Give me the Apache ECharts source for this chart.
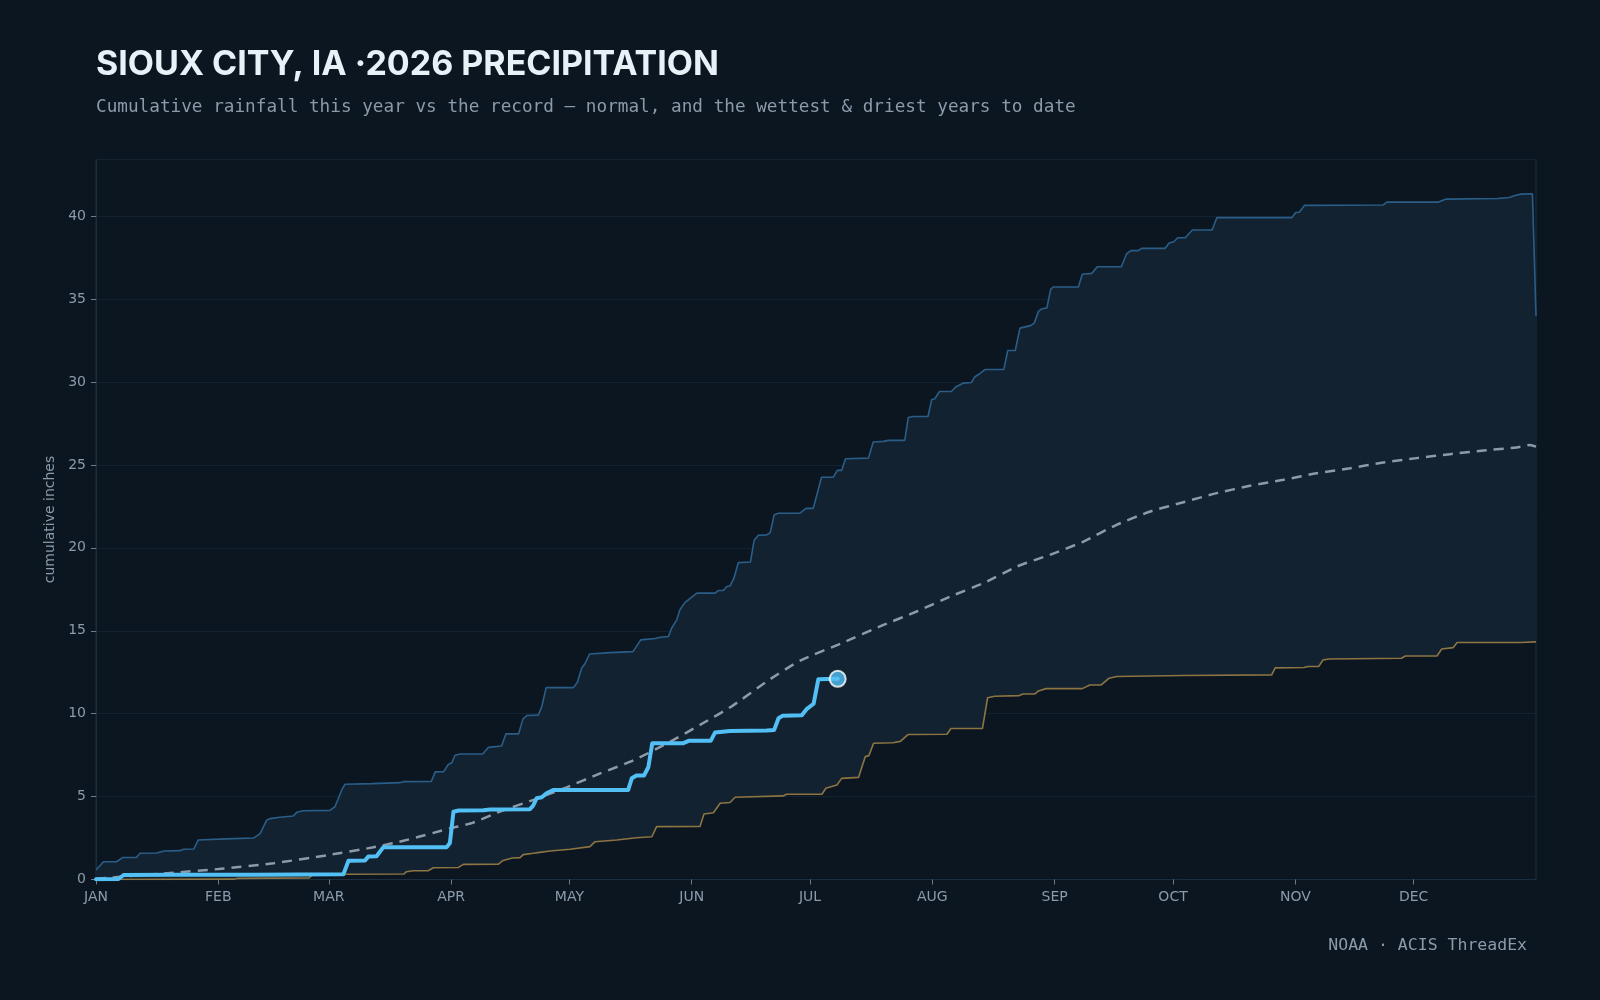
<!DOCTYPE html>
<html>
<head>
<meta charset="utf-8">
<style>
  html, body { margin: 0; padding: 0; background: #0c1620; }
  #chart { width: 1600px; height: 1000px; }
</style>
<script src="https://cdn.jsdelivr.net/npm/echarts@6/dist/echarts.min.js"></script>
</head>
<body>
<div id="chart"></div>
<script>
// ---- data: [day of year (Jan 1 = 0), cumulative inches] ----
const monthStarts = [0, 31, 59, 90, 120, 151, 181, 212, 243, 273, 304, 334];
const monthNames = ['JAN','FEB','MAR','APR','MAY','JUN','JUL','AUG','SEP','OCT','NOV','DEC'];

const wettest = [
  [0,0.57],[1.9,1.07],[5.2,1.07],[6.8,1.33],[10.2,1.33],[11.2,1.58],[15.3,1.6],[17.3,1.72],
  [21.3,1.74],[22.2,1.82],[24.8,1.84],[25.9,2.38],[33,2.45],[39.9,2.5],[41.6,2.77],[43.3,3.59],
  [44.1,3.67],[46.6,3.75],[50,3.83],[50.9,4.05],[52.5,4.15],[59.3,4.17],[60.6,4.4],[62.3,5.4],
  [63.1,5.74],[70,5.78],[77,5.84],[77.9,5.9],[85,5.92],[86,6.49],[88.1,6.5],[89.3,6.94],
  [90.2,7.04],[91,7.49],[92.3,7.57],[98,7.57],[99.5,7.97],[102.8,8.05],[103.9,8.78],[107.1,8.78],
  [108.2,9.67],[109.2,9.89],[112.1,9.91],[113,10.43],[114.1,11.57],[121,11.57],[122,11.88],
  [123.1,12.74],[124,13.04],[125.1,13.6],[130.3,13.68],[136.1,13.74],[138.1,14.45],[141.7,14.53],
  [143,14.61],[145.1,14.65],[145.9,15.15],[147.2,15.66],[148,16.26],[149.3,16.71],[150.2,16.87],
  [152.3,17.27],[156.9,17.27],[157.8,17.43],[159,17.43],[159.9,17.67],[160.7,17.7],[161.7,18.17],
  [162.8,19.11],[165.9,19.15],[166.8,20.44],[167.9,20.76],[170,20.78],[170.9,20.92],[171.9,21.99],
  [173,22.09],[178.4,22.09],[180,22.38],[181.8,22.38],[183.9,24.26],[186.9,24.26],[187.9,24.67],
  [189,24.67],[190,25.37],[195.8,25.41],[197,26.38],[199.6,26.42],[200.8,26.48],[205,26.48],
  [205.9,27.86],[207.1,27.92],[210.9,27.92],[211.8,28.93],[212.6,28.99],[213.8,29.43],[216.8,29.43],
  [217.9,29.7],[219.8,29.93],[221.9,29.97],[222.7,30.3],[224,30.5],[225.3,30.75],[230.1,30.75],
  [231.1,31.9],[233,31.9],[234.2,33.25],[236.9,33.4],[237.8,33.55],[238.9,34.26],[239.8,34.42],
  [241,34.46],[242,35.6],[242.7,35.73],[249,35.73],[250,36.5],[252.4,36.55],[253.8,36.95],
  [259.9,36.95],[261.2,37.72],[262.3,37.92],[264.2,37.92],[265,38.06],[271,38.06],[272,38.38],
  [273.2,38.46],[274.2,38.7],[276.1,38.7],[277.9,39.17],[282.9,39.17],[284.1,39.91],[303.1,39.91],
  [304.1,40.22],[305,40.24],[306.3,40.65],[326.2,40.67],[327.2,40.85],[340.3,40.85],[342.2,41.03],
  [355.3,41.07],[358.2,41.13],[359.7,41.25],[361.2,41.33],[364.1,41.35],[365,33.96]
];

const driest = [
  [0,0],[35,0.02],[36,0.07],[54,0.1],[55,0.3],[63,0.32],[78,0.33],[78.7,0.47],[80.4,0.53],
  [84.2,0.53],[85.5,0.71],[91.8,0.72],[93.1,0.91],[102,0.93],[103.2,1.15],[105.5,1.3],[107.5,1.32],
  [108.3,1.5],[110.9,1.58],[112,1.62],[115.1,1.72],[120.2,1.82],[125.2,1.98],[126.5,2.28],[132,2.38],
  [137,2.52],[140.9,2.58],[142.1,3.19],[153.1,3.2],[154.1,3.95],[156.5,4.03],[158.2,4.6],[160.7,4.64],
  [162,4.96],[174.2,5.04],[175,5.14],[184,5.14],[185,5.5],[187.8,5.7],[189,6.1],[193.3,6.16],[195,7.41],
  [195.9,7.47],[197.1,8.22],[202,8.25],[203.9,8.33],[205.8,8.74],[215.7,8.76],[216.7,9.11],
  [224.7,9.11],[226,10.96],[227.8,11.05],[234,11.09],[235,11.19],[238,11.19],[238.9,11.37],
  [240.8,11.51],[250,11.51],[251.9,11.73],[254.8,11.73],[256.8,12.14],[258.7,12.24],[275.7,12.3],
  [298,12.34],[298.9,12.76],[306.2,12.78],[307.2,12.84],[309.9,12.84],[311,13.24],[312.5,13.3],
  [330.9,13.34],[331.9,13.48],[339.9,13.48],[341.1,13.9],[344,13.98],[345,14.29],[361,14.29],
  [364.8,14.33],[365,14.33]
];

const normal = [
  [0,0.05],[19.6,0.41],[31,0.63],[45,0.98],[59,1.48],[70.3,1.94],[78.7,2.38],[90,3.1],[95.6,3.43],
  [102.4,4.1],[110.9,4.8],[119.3,5.56],[127.8,6.4],[136.2,7.18],[144.7,8.2],[153.1,9.32],[161.5,10.5],
  [170,11.94],[178.5,13.2],[189.4,14.29],[199.6,15.35],[208,16.16],[216.5,17.06],[224.9,17.87],
  [233.4,18.87],[241.8,19.58],[250.3,20.38],[258.7,21.39],[267.2,22.19],[275.6,22.75],[284.1,23.3],
  [292.5,23.74],[301,24.1],[309.4,24.5],[317.9,24.8],[326.3,25.15],[334.8,25.41],[343.2,25.65],
  [351.7,25.87],[360.1,26.05],[363.5,26.2],[365,26.1]
];

const current = [
  [0,0.02],[5.7,0.03],[7,0.27],[20,0.28],[40,0.29],[62.7,0.31],[64,1.13],[68.2,1.15],[69,1.38],
  [71.1,1.4],[72.8,1.94],[88.9,1.95],[89.7,2.2],[90.6,4.09],[91.9,4.16],[98.2,4.17],[99.9,4.22],
  [110,4.24],[110.8,4.45],[111.7,4.9],[113,4.96],[114.2,5.2],[115.9,5.4],[134.9,5.4],[135.8,6.1],
  [137,6.27],[138.9,6.27],[140,6.77],[141,8.22],[148.9,8.22],[150.2,8.36],[155.8,8.36],[156.9,8.86],
  [160.7,8.96],[170,8.98],[171.9,9.02],[173,9.72],[174.1,9.88],[178.9,9.9],[180.2,10.29],
  [181.9,10.6],[183.1,12.08],[188,12.1]
];

// ---- chart ----
const yMax = Math.max(...wettest.map(p => p[1])) * 1.05;
const chart = echarts.init(document.getElementById('chart'), null, { renderer: 'canvas' });
const labelColor = '#8b9bab';
const borderColor = '#1b2f40';

chart.setOption({
  backgroundColor: '#0c1620',
  animation: false,
  title: [
    { text: 'SIOUX CITY, IA ·2026 PRECIPITATION', left: 91, top: 43,
      textStyle: { color: '#e8f0f8', fontSize: 34, fontWeight: 'bold', fontFamily: 'Inter' } },
    { text: 'Cumulative rainfall this year vs the record — normal, and the wettest & driest years to date',
      left: 91, top: 93,
      textStyle: { color: labelColor, fontSize: 17.7, fontWeight: 'normal', fontFamily: 'DejaVu Sans Mono' } },
    { text: 'NOAA · ACIS ThreadEx', right: 68, top: 932,
      textStyle: { color: labelColor, fontSize: 16.5, fontWeight: 'normal', fontFamily: 'DejaVu Sans Mono' } }
  ],
  grid: { left: 96, right: 64, top: 159.5, bottom: 120.5, show: true,
          borderColor: borderColor, borderWidth: 1, backgroundColor: 'transparent' },
  xAxis: {
    type: 'value', min: 0, max: 365,
    splitLine: { show: false },
    axisLine: { show: true, lineStyle: { color: borderColor } },
    axisTick: { show: true, customValues: monthStarts, length: 5, lineStyle: { color: '#6b7d8d' } },
    axisLabel: { customValues: monthStarts, color: labelColor, fontSize: 14, fontFamily: 'DejaVu Sans',
      margin: 11, formatter: v => monthNames[monthStarts.indexOf(v)] || '' }
  },
  yAxis: {
    type: 'value', min: 0, max: yMax, interval: 5,
    name: 'cumulative inches', nameLocation: 'middle', nameGap: 35, nameRotate: 90,
    nameTextStyle: { color: labelColor, fontSize: 14, fontFamily: 'DejaVu Sans' },
    axisLine: { show: true, lineStyle: { color: borderColor } },
    axisTick: { show: true, length: 5, lineStyle: { color: '#6b7d8d' } },
    axisLabel: { color: labelColor, fontSize: 14, fontFamily: 'DejaVu Sans', margin: 10,
      showMaxLabel: false, formatter: v => (Math.abs(v % 5) < 1e-9 ? String(v) : '') },
    splitLine: { show: true, lineStyle: { color: '#132331', width: 1 } }
  },
  series: [
    {
      name: 'record band', type: 'custom', z: 1, silent: true,
      data: [[0, 0]],
      renderItem: (params, api) => {
        const pts = wettest.map(p => api.coord(p))
          .concat(driest.slice().reverse().map(p => api.coord(p)));
        return { type: 'polygon', shape: { points: pts }, style: { fill: '#122231' } };
      }
    },
    { name: 'wettest', type: 'line', data: wettest, showSymbol: false, z: 3,
      lineStyle: { color: '#2a5e88', width: 1.6 } },
    { name: 'driest', type: 'line', data: driest, showSymbol: false, z: 3,
      lineStyle: { color: '#8c7443', width: 1.6 } },
    { name: 'normal', type: 'line', data: normal, showSymbol: false, z: 4, smooth: 0.2,
      lineStyle: { color: '#8d9aa7', width: 2.5, type: [10, 7] } },
    { name: '2026', type: 'line', data: current, showSymbol: false, z: 5,
      lineStyle: { color: '#52c0f5', width: 4, join: 'round', cap: 'round' } },
    { name: 'today', type: 'scatter', data: [current[current.length - 1]], z: 6,
      symbolSize: 16, itemStyle: { color: '#52c0f5', borderColor: '#ffffff', borderWidth: 2 } }
  ]
});
</script>
</body>
</html>
